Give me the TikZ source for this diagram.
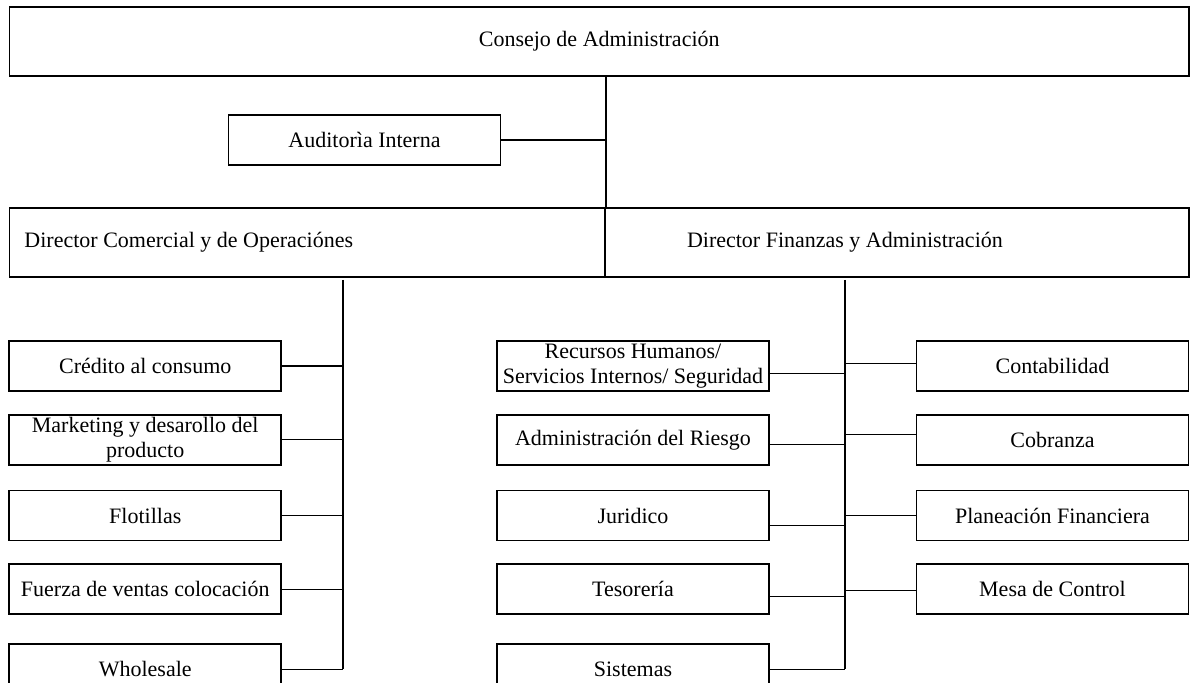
\documentclass[tikz,border=0pt]{standalone}
\usepackage{fontspec}
\setmainfont{Liberation Serif}
\usepackage{tikz}
\usetikzlibrary{calc,positioning}
\tikzset{
  line/.style={line width=0.6pt},
  box/.style={draw, line width=0.9pt, align=center, inner sep=1pt, font=\fontsize{11}{12.5}\selectfont},
  unitbox/.style={box, minimum width=136pt, minimum height=25pt},
  dirbox/.style={box, minimum height=34.5pt, inner xsep=7.5pt, align=flush left},
  bigbox/.style={box, minimum width=589.75pt, minimum height=34.5pt}
}
\begin{document}
\begin{tikzpicture}[x=0.5pt, y=-0.5pt]
  \useasboundingbox (0,0) rectangle (1191,683);
  \clip (0,0) rectangle (1191,683);

  \node[bigbox] (consejo) at (599.25,41.5) {Consejo de Administración};
  \node[unitbox] (audit) at (364.5,140) {Auditorìa Interna};
  \node[dirbox, minimum width=297.75pt, text width=282.75pt] (dircom) at (307.25,242.5) {Director Comercial y de Operaciónes};
  \node[dirbox, minimum width=292pt, text width=277pt] (dirfin) at (897,242.5) {\hspace*{33.5pt}Director Finanzas y Administración};

  % comercial
  \node[unitbox] (credito) at (145.25,366) {Crédito al consumo};
  \node[unitbox, below=11pt of credito] (marketing) {Marketing y desarollo del\\producto};
  \node[unitbox, below=12pt of marketing] (flotillas) {Flotillas};
  \node[unitbox, below=11pt of flotillas] (fuerza) {Fuerza de ventas colocación};
  \node[unitbox, below=14pt of fuerza] (wholesale) {Wholesale};

  % finanzas, izquierda
  \node[unitbox] (rh) at (633,366) {Recursos Humanos/\\Servicios Internos/ Seguridad};
  \node[unitbox, below=11pt of rh] (riesgo) {Administración del Riesgo};
  \node[unitbox, below=12pt of riesgo] (juridico) {Juridico};
  \node[unitbox, below=11pt of juridico] (tesoreria) {Tesorería};
  \node[unitbox, below=14pt of tesoreria] (sistemas) {Sistemas};

  % finanzas, derecha
  \node[unitbox] (contab) at (1052.5,366) {Contabilidad};
  \node[unitbox, below=11pt of contab] (cobranza) {Cobranza};
  \node[unitbox, below=12pt of cobranza] (planeacion) {Planeación Financiera};
  \node[unitbox, below=11pt of planeacion] (mesa) {Mesa de Control};

  \coordinate (lspine) at (343,280);
  \coordinate (rspine) at (845,280);

  \draw[line] (consejo.south -| dircom.north east) -- (dircom.north east);
  \draw[line] (audit.east) -- (audit.east -| dircom.north east);

  \draw[line] (lspine) -- (lspine |- wholesale.east);
  \foreach \n in {credito,marketing,flotillas,fuerza,wholesale}
    \draw[line] (\n.east) -- (\n.east -| lspine);

  \draw[line] (rspine) -- (rspine |- sistemas.east);
  \foreach \n/\d in {rh/-3.75pt,riesgo/-2.5pt,juridico/-5pt,tesoreria/-3.75pt,sistemas/0pt}
    \draw[line] ([yshift=\d]\n.east) -- ([yshift=\d]\n.east -| rspine);
  \foreach \n/\d in {contab/1.25pt,cobranza/2.5pt,planeacion/0pt,mesa/-0.5pt}
    \draw[line] ([yshift=\d]\n.west) -- ([yshift=\d]\n.west -| rspine);
\end{tikzpicture}
\end{document}
